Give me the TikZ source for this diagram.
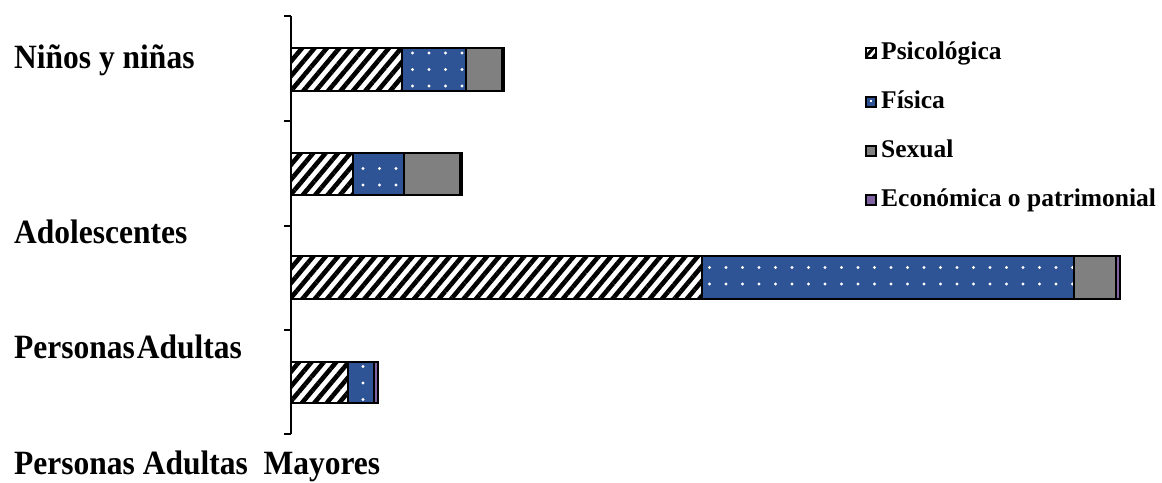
\documentclass[tikz,border=0pt]{standalone}
\usepackage{fontspec}
\usepackage{graphicx}
\setmainfont{Liberation Serif}
\usetikzlibrary{patterns.meta}
\definecolor{fisblue}{RGB}{47,84,150}
\definecolor{sexgray}{RGB}{128,128,128}
\definecolor{ecopurple}{RGB}{128,100,162}
\tikzset{
  psico/.style={draw=black, line width=2.5pt, pattern={Lines[angle=50,distance=9.5pt,line width=4.6pt]}, pattern color=black},
  fisi/.style={draw=black, line width=2.5pt, preaction={fill=fisblue}, pattern={Dots[radius=1.6pt,distance=16.5pt]}, pattern color=white},
  sexu/.style={draw=black, line width=2.5pt, fill=sexgray},
  econ/.style={draw=black, line width=2.5pt, fill=ecopurple},
  grp/.style={anchor=base west, inner sep=0pt, font=\fontsize{31.5}{31.5}\selectfont\bfseries},
  leg/.style={anchor=base west, inner sep=0pt, font=\fontsize{25.5}{25.5}\selectfont\bfseries},
}
\begin{document}
\begin{tikzpicture}[x=1pt,y=-1pt]
\useasboundingbox (0,0) rectangle (1162,482);
% axis
\draw [line width=2pt] (291,16) -- (291,434);
\foreach \t in {16,121,226,330,434}
  \draw [line width=1.5pt] (284,\t) -- (291,\t);
% bars
\foreach \top/\bot/\a/\b/\c/\d in {48/91/402/466/502/504, 153/195/353/404/460/462, 256/299/702/1074/1116/1120, 362/403/348/374/374/378}{
  \draw [psico] (291,\top) rectangle (\a,\bot);
  \draw [fisi] (\a,\top) rectangle (\b,\bot);
  \draw [sexu] (\b,\top) rectangle (\c,\bot);
  \draw [econ] (\c,\top) rectangle (\d,\bot);
}
% group labels
\node [grp] (ninos) at (14,68) {\scalebox{1}[1.08]{Niños y niñas}};
\node [grp] (adol) at (14,243) {\scalebox{1}[1.08]{Adolescentes}};
\node [grp] (adult) at (14,358) {\scalebox{1}[1.08]{\spaceskip=2pt Personas Adultas}};
\node [grp] (mayor) at (14,474) {\scalebox{1}[1.08]{Personas Adultas\ \ Mayores}};
% legend
\draw [psico, line width=1.2pt, pattern={Lines[angle=50,distance=6pt,line width=3pt]}] (866,48) rectangle (876,58);
\draw [line width=1.2pt, fill=fisblue] (866,97) rectangle (876,107);
\fill [white] (870,100) rectangle (872,102);
\draw [sexu, line width=1.2pt] (866,146) rectangle (876,156);
\draw [econ, line width=1.2pt] (866,195) rectangle (876,205);
\node [leg] (lpsico) at (881,59) {Psicológica};
\node [leg] (lfisi) at (881,108) {Física};
\node [leg] (lsexu) at (881,157) {Sexual};
\node [leg] (lecon) at (881,206) {Económica o patrimonial};
\end{tikzpicture}
\end{document}
